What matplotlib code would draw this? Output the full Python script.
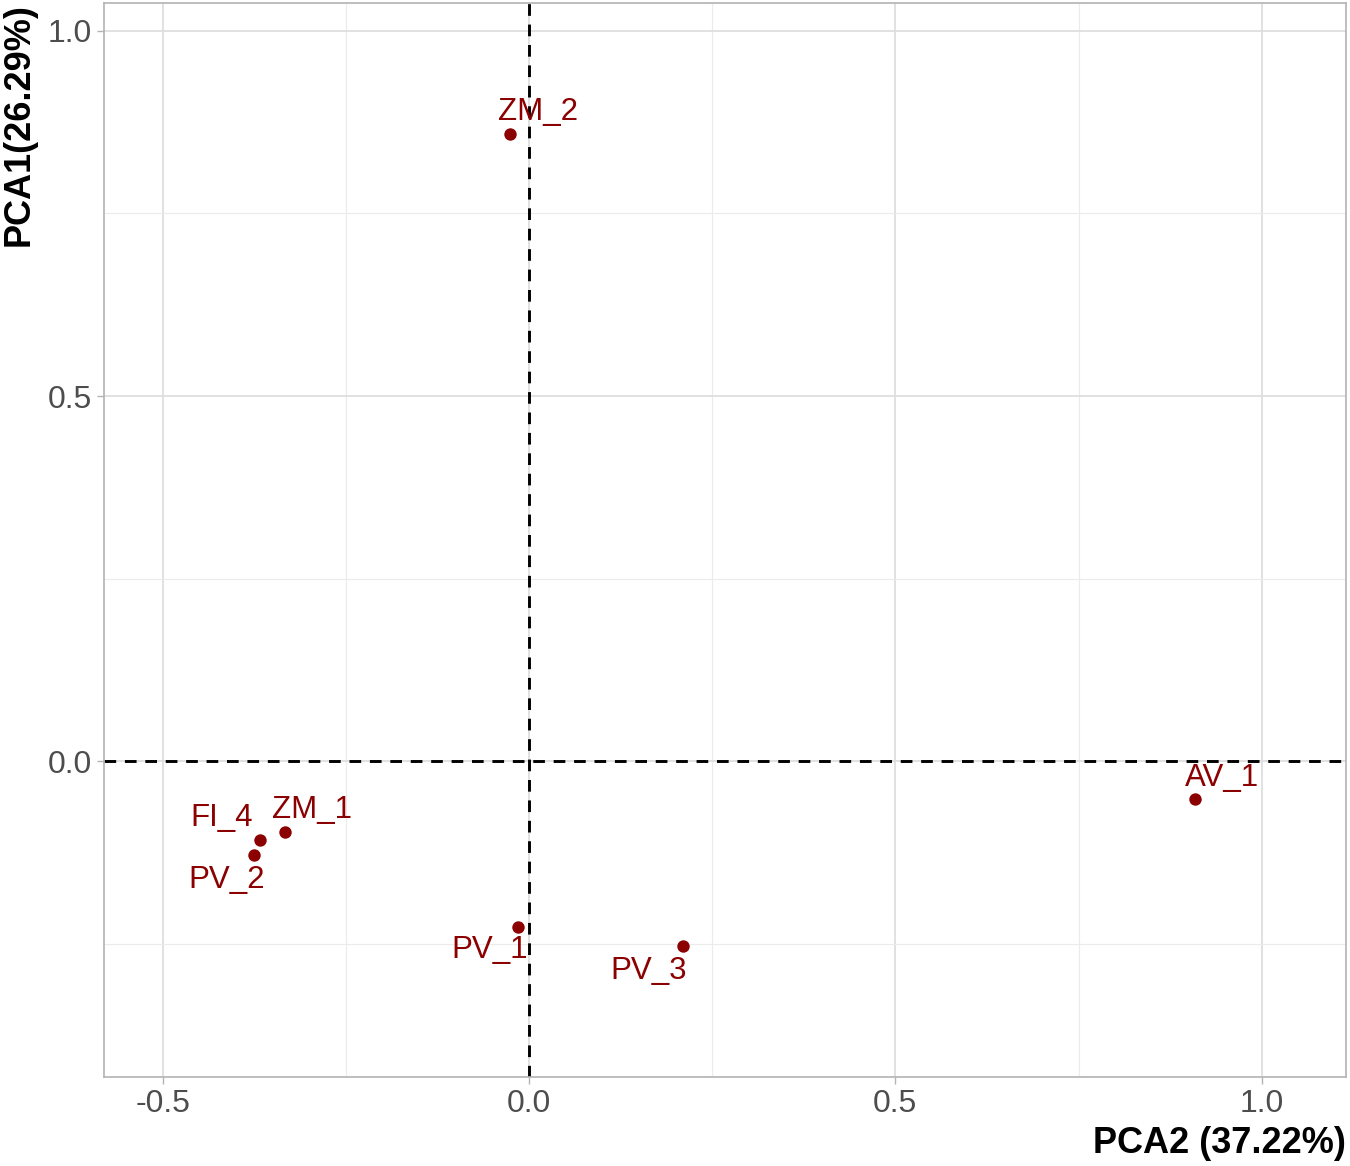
import matplotlib.pyplot as plt
from matplotlib.ticker import MultipleLocator

# PCA scores
samples = ['ZM_2', 'AV_1', 'FI_4', 'ZM_1', 'PV_2', 'PV_1', 'PV_3']
pca2 = [-0.026, 0.909, -0.367, -0.333, -0.375, -0.015, 0.210]
pca1 = [0.859, -0.051, -0.107, -0.096, -0.128, -0.227, -0.253]

# label offsets in pixels (ggrepel-like placement)
offsets = {
    'ZM_2': (28, 22), 'AV_1': (27, 21), 'FI_4': (-38, 22), 'ZM_1': (27, 22),
    'PV_2': (-28, -25), 'PV_1': (-28, -23), 'PV_3': (-34, -25),
}

plt.rcParams['font.family'] = ['Liberation Sans', 'DejaVu Sans']

fig = plt.figure(figsize=(13.5, 11.66), dpi=100)
ax = fig.add_axes([104 / 1350, 1 - 1077 / 1166, 1242 / 1350, 1074 / 1166])

ax.set_xlim(-0.58, 1.115)
ax.set_ylim(-0.432, 1.038)

ax.xaxis.set_major_locator(MultipleLocator(0.5))
ax.xaxis.set_minor_locator(MultipleLocator(0.25))
ax.yaxis.set_major_locator(MultipleLocator(0.5))
ax.yaxis.set_minor_locator(MultipleLocator(0.25))

ax.grid(True, which='major', color='#DEDEDE', linewidth=1.3)
ax.grid(True, which='minor', color='#EBEBEB', linewidth=0.8)
ax.set_axisbelow(True)

# reference lines through the origin
ax.axhline(0, color='black', linestyle=(0, (4, 3)), linewidth=2.1, zorder=2)
ax.axvline(0, color='black', linestyle=(0, (4, 3)), linewidth=2.1, zorder=2)

ax.scatter(pca2, pca1, s=80, color='#8B0000', zorder=3, linewidths=0)
for name, x, y in zip(samples, pca2, pca1):
    dx, dy = offsets[name]
    ax.annotate(name, (x, y), xytext=(dx * 0.72, dy * 0.72), textcoords='offset points',
                ha='center', va='center', fontsize=22.5, color='#8B0000', zorder=4)

for s in ax.spines.values():
    s.set_color('#B3B3B3')
    s.set_linewidth(1.2)

ax.tick_params(which='major', length=5, width=1, color='#B3B3B3',
               labelsize=23, labelcolor='#4D4D4D', pad=4)
ax.tick_params(which='minor', length=0)
ax.xaxis.set_major_formatter(plt.FuncFormatter(lambda v, p: f'{v:.1f}'))
ax.yaxis.set_major_formatter(plt.FuncFormatter(lambda v, p: f'{v:.1f}'))

ax.set_xlabel('PCA2 (37.22%)', fontsize=26, fontweight='bold', loc='right', labelpad=5)
ax.set_ylabel('PCA1(26.29%)', fontsize=26, fontweight='bold', loc='top', labelpad=8)

fig.savefig('out.png', dpi=100)
